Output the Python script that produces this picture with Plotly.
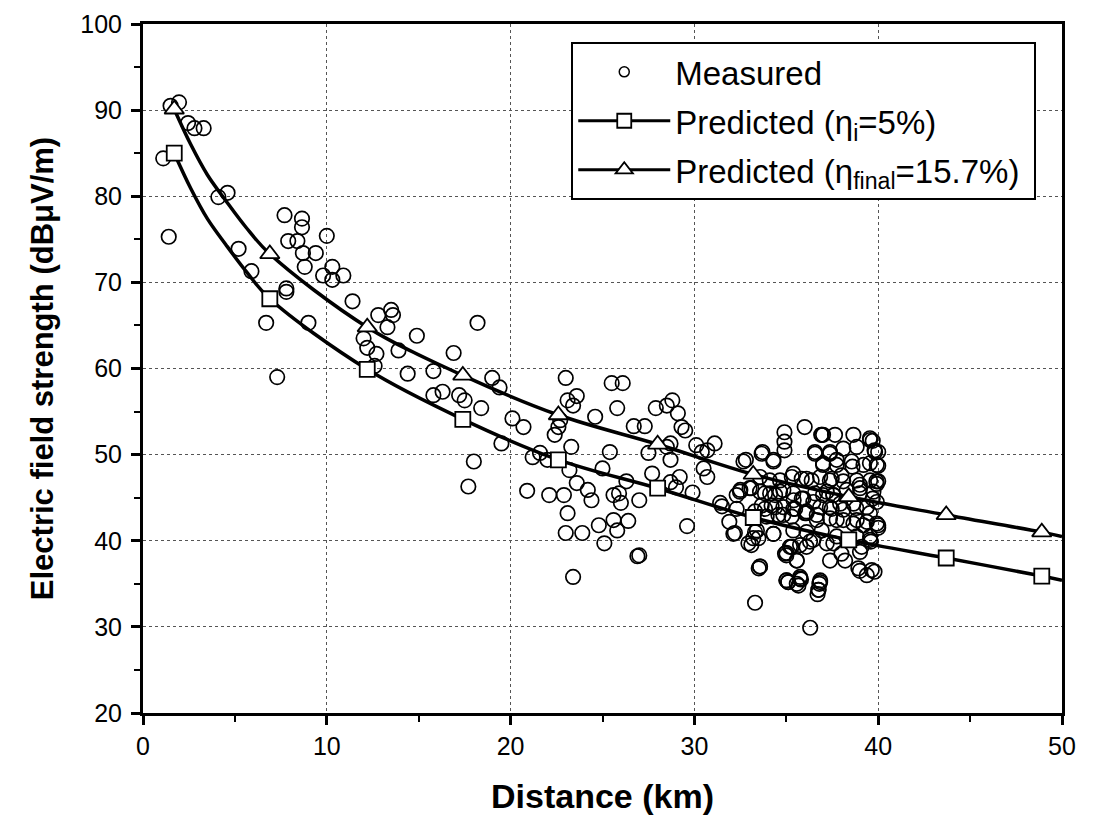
import plotly.graph_objects as go

# ---------------- data ----------------
meas_x = [
    1.96, 1.5, 2.45, 2.8, 3.3, 1.1, 1.4, 4.1, 4.6, 5.2, 5.9, 7.7, 8.65, 8.65, 7.9, 8.4, 10.0, 8.7, 9.4, 8.8,
    9.8, 10.3, 10.9, 10.3, 6.7, 7.8, 7.8, 9.0, 11.4, 12.8, 13.5, 13.6, 13.3, 12.0, 12.2, 12.7, 12.6, 13.9, 14.9, 16.9,
    15.8, 14.4, 7.3,
    18.2, 15.8, 16.3, 17.2, 17.5, 18.4, 19.0, 19.4, 20.1, 20.7, 19.5, 18.0, 17.7, 20.9, 22.1, 22.9, 23.1, 23.0, 23.9, 23.4,
    24.8, 25.1, 25.6, 25.8, 26.4, 26.9, 29.6, 23.0, 23.1, 23.6, 23.4, 22.7, 22.6, 22.4, 21.6, 21.2, 22.0, 23.3, 23.2, 23.6,
    24.2, 24.4, 24.6, 25.5, 26.1, 25.8, 25.4, 25.0, 25.6, 25.9, 26.0, 27.0, 26.7, 27.3, 26.3, 27.5, 27.7, 27.9, 28.5, 28.8,
    29.1, 29.3, 29.5, 28.5, 28.7, 28.7, 29.2, 29.0, 29.9, 30.1, 30.7, 31.1, 30.5, 30.7, 31.4, 28.7, 30.4, 31.9, 32.2, 27.0,
    32.8, 33.7, 34.3, 34.9, 34.9, 34.9, 32.5, 32.3, 33.5, 33.3, 35.0, 35.0, 33.2, 33.4,
    31.5, 33.1, 33.1, 35.1, 35.8, 36.8, 36.7, 36.3, 39.0, 39.8, 40.0, 40.0, 40.0, 40.0, 39.7,
    36.0, 36.9, 37.65, 38.65, 39.56, 36.56, 37.38, 38.1, 38.83, 39.83, 37.0, 37.74, 38.56, 39.2, 39.92,
    35.38, 36.1, 36.84, 37.47, 33.57, 34.1, 34.66, 38.0, 38.83, 39.56, 39.92,
    33.84, 34.39, 34.84, 35.38, 35.84, 36.56, 37.2, 37.56, 38.29, 39.01, 39.74,
    33.66, 34.2, 34.84, 35.38, 36.1, 36.84, 37.47, 37.93, 38.65, 39.38, 39.92,
    33.93, 34.57, 35.29, 36.02, 36.66, 37.38, 38.1, 38.83, 39.38, 39.92,
    34.3, 35.38, 36.1, 36.93, 37.74, 38.83, 39.56,
    35.29, 34.93, 35.57, 36.1, 36.47, 37.2, 37.38, 38.0, 38.2, 39.01, 39.56, 38.92, 39.65, 39.38,
    35.02, 35.75, 35.66, 36.84, 36.75, 33.57,
    36.93, 33.66, 34.3, 32.67, 36.56, 37.0, 35.3, 35.84, 36.38, 32.48, 33.0, 33.57, 34.12, 34.66,
    35.4, 35.93, 36.47, 37.0, 32.3, 33.3, 33.84, 34.39, 34.84, 35.48, 36.1, 36.66,
    32.12, 33.3, 33.48, 34.3, 32.94, 35.2, 35.75, 36.29, 35.0, 35.57, 33.57, 35.1, 35.75, 35.57, 36.84, 36.75,
    37.0, 39.55, 37.37, 39.8, 37.74, 38.6, 39.55, 37.37, 38.1, 39.0, 39.9, 37.56, 39.0, 39.7,
    37.37, 38.1, 38.8, 39.55, 37.74, 38.65, 39.2, 40.0, 37.56, 39.1, 39.6,
]
meas_y = [
    90.9, 90.5, 88.5, 87.9, 87.9, 84.4, 75.3, 79.9, 80.4, 73.9, 71.3, 77.8, 77.4, 76.4, 74.8, 74.8, 75.4, 73.4, 73.4, 71.8,
    70.8, 71.8, 70.8, 70.3, 65.3, 69.3, 68.9, 65.3, 67.8, 66.2, 66.8, 66.2, 64.8, 63.5, 62.4, 61.7, 60.3, 62.1, 63.8, 61.8,
    59.7, 59.4, 59.0,
    65.3, 56.9, 57.3, 56.9, 56.3, 55.4, 58.9, 57.8, 54.2, 53.2, 51.3, 49.2, 46.3, 45.8, 45.3, 45.3, 43.2, 40.9, 40.9, 35.8,
    41.8, 39.7, 42.4, 41.2, 42.3, 38.2, 41.7, 58.9, 56.3, 56.8, 55.7, 54.0, 53.2, 52.3, 50.2, 49.7, 49.4, 50.9, 48.2, 46.7,
    45.9, 44.7, 54.4, 58.3, 58.3, 55.4, 50.3, 48.4, 45.3, 45.5, 44.4, 44.7, 53.3, 53.3, 46.9, 50.2, 47.8, 55.4, 55.7, 56.3,
    54.8, 53.2, 52.8, 50.9, 49.4, 46.8, 47.4, 46.2, 45.6, 51.1, 50.5, 51.3, 48.4, 47.4, 44.4, 51.3, 50.3, 42.2, 40.9, 38.3,
    49.4, 50.3, 49.4, 52.6, 51.5, 50.5, 45.9, 45.3, 36.8, 32.8, 38.6, 35.4, 40.3, 41.2,
    44.0, 46.1, 39.5, 35.2, 35.5, 35.0, 33.8, 29.9, 36.5, 36.4, 41.5, 46.9, 48.7, 50.3, 51.6,
    53.2, 52.3, 52.3, 52.3, 51.7, 50.3, 50.3, 50.7, 50.9, 50.3, 48.8, 49.4, 49.2, 48.8, 48.8,
    47.8, 47.2, 47.4, 47.2, 47.4, 47.0, 47.0, 47.6, 47.0, 47.0, 46.6,
    45.5, 45.3, 45.9, 45.5, 44.9, 45.5, 45.7, 45.3, 45.9, 46.1, 45.7,
    44.1, 44.1, 43.9, 43.7, 43.4, 43.9, 43.7, 44.3, 44.3, 43.9, 44.5,
    42.8, 43.0, 42.8, 43.2, 43.0, 42.6, 42.4, 42.4, 42.2, 42.0,
    40.8, 41.2, 41.0, 41.2, 40.5, 40.5, 40.5,
    39.3, 38.5, 37.7, 39.3, 40.1, 39.7, 37.7, 38.5, 37.7, 38.7, 40.1, 36.8, 36.6, 36.0,
    35.4, 35.6, 34.8, 35.4, 34.3, 37.0,
    52.3, 50.1, 49.2, 49.2, 50.1, 49.0, 47.4, 47.2, 47.0, 45.7, 46.1, 45.7, 45.5, 45.7,
    44.7, 44.9, 44.5, 45.3, 43.7, 43.4, 43.7, 43.9, 43.0, 43.7, 43.2, 42.4,
    40.8, 41.0, 40.3, 40.8, 39.7, 39.3, 39.5, 39.9, 38.3, 37.7, 37.0, 35.2, 35.8, 35.0, 35.2, 34.3,
    52.3, 51.9, 50.1, 50.5, 48.8, 48.6, 49.0, 47.0, 46.9, 46.5, 46.9, 45.3, 45.5, 44.9,
    43.9, 43.6, 43.8, 43.2, 42.4, 42.0, 41.8, 41.8, 39.7, 39.3, 39.9,
]

# predicted curves
curve_x = [1.7, 2.6, 3.5, 4.5, 5.6, 6.9, 12.2, 17.4, 22.6, 28.0, 33.2, 38.4, 43.7, 48.9, 50.0]
curve_eta_i = [85.0, 80.9, 77.4, 74.4, 71.3, 68.1, 59.9, 54.1, 49.4, 46.1, 42.7, 40.1, 38.0, 35.9, 35.4]
curve_eta_final = [90.1, 86.0, 82.5, 79.5, 76.4, 73.3, 64.8, 59.2, 54.6, 51.2, 47.7, 45.1, 43.0, 41.0, 40.5]

# symbol positions on the predicted curves
mark_x = [1.7, 6.9, 12.2, 17.4, 22.6, 28.0, 33.2, 38.4, 43.7, 48.9]
mark_eta_i = [85.0, 68.1, 59.9, 54.1, 49.4, 46.1, 42.7, 40.1, 38.0, 35.9]
mark_eta_final = [90.1, 73.3, 64.8, 59.2, 54.6, 51.2, 47.7, 45.1, 43.0, 41.0]

x_ticks = [0, 10, 20, 30, 40, 50]
y_ticks = [20, 30, 40, 50, 60, 70, 80, 90, 100]

name_meas = "Measured"
name_i = "Predicted (\u03b7<sub>i</sub>=5%)"
name_final = "Predicted (\u03b7<sub>final</sub>=15.7%)\u00a0"

FONT = "Arial, Liberation Sans, sans-serif"

fig = go.Figure()

# measured points
fig.add_trace(go.Scatter(
    x=meas_x, y=meas_y, mode="markers", showlegend=False,
    marker=dict(symbol="circle-open", size=14.5, color="black", line=dict(width=1.7)),
))

# curves
for ys in (curve_eta_i, curve_eta_final):
    fig.add_trace(go.Scatter(
        x=curve_x, y=ys, mode="lines", showlegend=False, hoverinfo="skip",
        line=dict(color="black", width=3.5, shape="spline"),
    ))

# curve symbols
fig.add_trace(go.Scatter(
    x=mark_x, y=mark_eta_i, mode="markers", showlegend=False,
    marker=dict(symbol="square", size=15, color="white", line=dict(width=1.8, color="black")),
))
fig.add_trace(go.Scatter(
    x=mark_x, y=mark_eta_final, mode="markers", showlegend=False,
    marker=dict(symbol="triangle-up", size=17, color="white", line=dict(width=1.8, color="black")),
))

# legend entries
fig.add_trace(go.Scatter(
    x=[None], y=[None], mode="markers", name=name_meas, legendgroup="a",
    marker=dict(symbol="circle-open", size=10, color="black", line=dict(width=1.5)),
))
fig.add_trace(go.Scatter(
    x=[None], y=[None], mode="lines+markers", name=name_i, legendgroup="b",
    line=dict(color="black", width=3),
    marker=dict(symbol="square", size=14, color="white", line=dict(width=1.8, color="black")),
))
fig.add_trace(go.Scatter(
    x=[None], y=[None], mode="lines+markers", name=name_final, legendgroup="c",
    line=dict(color="black", width=3),
    marker=dict(symbol="triangle-up", size=15, color="white", line=dict(width=1.8, color="black")),
))

axis_common = dict(
    showline=True, linecolor="black", linewidth=3, mirror=True,
    ticks="outside", ticklen=9, tickwidth=2.5, tickcolor="black",
    showgrid=True, gridcolor="#555555", gridwidth=1, griddash="dot",
    zeroline=False,
    tickfont=dict(family=FONT, size=25, color="black"),
    minor=dict(ticks="outside", ticklen=6, tickwidth=2, tickcolor="black", showgrid=False),
)

fig.update_xaxes(
    range=[0, 50], tickvals=x_ticks, minor_dtick=5,
    title=dict(text="<b>Distance (km)</b>", font=dict(family=FONT, size=34, color="black"), standoff=26),
    **axis_common,
)
fig.update_yaxes(
    range=[20, 100], tickvals=y_ticks, minor_dtick=5,
    title=dict(text="<b>Electric field strength (dB\u03bcV/m)</b>", font=dict(family=FONT, size=31, color="black"), standoff=18),
    ticklabelstandoff=4,
    **axis_common,
)

# page body adds an 8px offset; figure size/margins compensate
fig.update_layout(
    width=1089, height=818,
    margin=dict(l=135, r=35, t=16, b=113, autoexpand=False),
    paper_bgcolor="white", plot_bgcolor="white",
    font=dict(family=FONT, color="black"),
    legend=dict(
        x=0.466, y=0.974, xanchor="left", yanchor="top",
        bgcolor="white", bordercolor="black", borderwidth=2,
        font=dict(family=FONT, size=33, color="black"),
        itemwidth=92, tracegroupgap=3, traceorder="grouped",
    ),
)

fig.write_html("out.html")
